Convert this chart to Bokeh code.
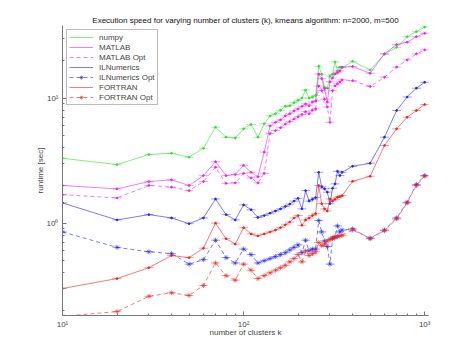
from bokeh.plotting import figure
from bokeh.models import Range1d, FixedTicker, Legend, LegendItem
from bokeh.embed import file_html
from bokeh.resources import INLINE

k = [10, 20, 30, 40, 50, 60, 70, 80, 90, 100, 110, 120, 130, 140, 150, 160, 170,
     180, 190, 200, 210, 220, 230, 240, 250, 260, 270, 280, 290, 300, 310, 320,
     330, 340, 350, 400, 500, 600, 700, 800, 900, 1000]

numpy_t = [3.30, 2.94, 3.54, 3.62, 3.37, 3.97, 5.85, 4.87, 4.80, 5.68, 6.15, 4.87,
           6.23, 7.2, 7.5, 8.0, 8.6, 8.7, 9.2, 9.6, 10.0, 11.6, 10.0, 10.2, 10.5,
           18.0, 15.5, 12.2, 12.0, 15.0, 15.5, 19.5, 16.5, 17.7, 17.5,
           19.7, 16.8, 22.5, 25.5, 31.0, 34.0, 37.0]
matlab_t = [2.0, 1.88, 2.15, 2.22, 2.0, 2.4, 3.1, 2.4, 2.45, 2.9, 2.55, 2.35,
            3.7, 6.0, 6.4, 6.7, 7.2, 7.5, 7.9, 8.2, 8.6, 9.0, 8.7, 9.3, 9.5,
            15.6, 14.3, 11.9, 9.3, 13.5, 14.5, 15.6, 16.0, 16.5, 17.7,
            17.9, 15.8, 22.6, 26.8, 28.0, 31.0, 33.0]
matlab_opt_t = [1.69, 1.59, 2.0, 1.94, 1.82, 2.15, 2.8, 2.08, 2.1, 2.5, 2.3, 2.1,
                2.5, 5.2, 5.5, 5.8, 6.2, 6.5, 6.8, 7.1, 7.4, 7.8, 7.5, 8.0, 8.2,
                12.5, 11.5, 9.8, 8.5, 6.4, 11.5, 12.5, 13.0, 13.5, 14.0,
                13.8, 12.4, 14.7, 17.7, 20.2, 22.6, 24.3]
il_t = [1.45, 1.06, 1.17, 1.10, 0.99, 1.10, 1.56, 1.17, 1.06, 1.40, 1.28, 1.11,
        1.15, 1.2, 1.25, 1.3, 1.36, 1.42, 1.5, 1.58, 1.30, 1.82, 1.5, 1.55, 1.6,
        2.55, 1.95, 1.88, 1.77, 1.43, 1.9, 2.06, 2.6, 2.4, 2.55,
        2.85, 3.01, 4.87, 7.96, 10.2, 12.0, 13.4]
il_opt_t = [0.85, 0.64, 0.59, 0.57, 0.47, 0.51, 0.73, 0.53, 0.48, 0.62, 0.56, 0.48,
            0.50, 0.52, 0.54, 0.56, 0.58, 0.61, 0.64, 0.67, 0.58, 0.73, 0.60, 0.62, 0.62,
            1.05, 0.85, 0.72, 0.65, 0.47, 0.75, 0.78, 0.95, 0.85, 0.88,
            0.90, 0.75, 0.88, 1.10, 1.47, 2.04, 2.40]
fortran_t = [0.30, 0.36, 0.44, 0.55, 0.53, 0.63, 1.0, 0.75, 0.68, 0.92, 0.82, 0.79,
             0.82, 0.85, 0.88, 0.92, 0.97, 1.02, 1.1, 1.15, 0.96, 1.06, 1.1, 1.15, 1.19,
             2.0, 1.43, 1.30, 1.25, 1.56, 1.5, 1.55, 1.61, 1.63, 1.66,
             2.16, 2.37, 4.18, 5.68, 7.03, 7.96, 8.89]
fortran_opt_t = [0.18, 0.196, 0.26, 0.277, 0.264, 0.317, 0.48, 0.38, 0.35, 0.47, 0.42, 0.36,
                 0.38, 0.40, 0.42, 0.44, 0.46, 0.49, 0.52, 0.56, 0.49, 0.60, 0.55, 0.57, 0.59,
                 0.70, 0.66, 0.68, 0.72, 0.74, 0.76, 0.77, 0.78, 0.79, 0.80,
                 0.88, 0.76, 0.87, 1.08, 1.45, 2.0, 2.38]

series_names = ["numpy", "MATLAB", "MATLAB Opt", "ILNumerics", "ILNumerics Opt",
                "FORTRAN", "FORTRAN Opt"]
series_vals = [numpy_t, matlab_t, matlab_opt_t, il_t, il_opt_t, fortran_t, fortran_opt_t]
colors = ["#33dd33", "#ee22ee", "#ee22ee", "#2222ee", "#2222ee", "#ee2222", "#ee2222"]
dashes = ["solid", "solid", "4 3", "solid", "4 3", "solid", "4 3"]
markers = ["dot", "dot", "dot", "dot", "asterisk", "dot", "asterisk"]

FONT = "Liberation Sans"

p = figure(width=472, height=353, x_axis_type="log", y_axis_type="log",
           x_range=Range1d(10, 1050), y_range=Range1d(0.1824, 38.1),
           output_backend="svg", toolbar_location=None,
           min_border_left=62, min_border_right=44, min_border_top=25,
           min_border_bottom=38,
           title="Execution speed for varying number of clusters (k), kmeans algorithm: n=2000, m=500")
p.title.align = "center"
p.title.text_font = FONT
p.title.text_font_size = "8px"
p.title.text_font_style = "normal"
p.title.text_color = "#111111"
p.title.standoff = 2
p.outline_line_color = None
p.xgrid.visible = False
p.ygrid.visible = False
p.background_fill_color = "white"
p.border_fill_color = "white"

items = []
for name, vals, c, d, m in zip(series_names, series_vals, colors, dashes, markers):
    ln = p.line(k, vals, line_color=c, line_width=0.8, line_dash=d, line_alpha=0.75)
    cap = p.scatter(k, vals, marker="dash", size=9, line_color=c, line_width=0.8,
                    line_alpha=0.55)
    if m == "asterisk":
        mk = p.scatter(k, vals, marker="asterisk", size=5, line_color=c,
                       line_width=0.7, line_alpha=0.8)
        rends = [ln, mk]
    else:
        mk = p.scatter(k, vals, marker="circle", size=1.8, line_color=c, fill_color=c)
        rends = [ln]
    items.append(LegendItem(label=name, renderers=rends))

legend = Legend(items=items, location="top_left", margin=4, padding=2, spacing=0,
                glyph_width=24, glyph_height=10, label_height=10, label_standoff=6,
                label_text_font=FONT, label_text_font_size="8px",
                border_line_color="#777777", border_line_width=0.8,
                background_fill_alpha=1.0)
p.add_layout(legend)

for ax in (p.xaxis[0], p.yaxis[0]):
    ax.axis_line_color = "#777777"
    ax.major_tick_line_color = "#777777"
    ax.minor_tick_line_color = "#777777"
    ax.major_tick_in = 4
    ax.major_tick_out = 0
    ax.minor_tick_in = 2
    ax.minor_tick_out = 0
    ax.major_label_text_font = FONT
    ax.major_label_text_font_size = "8px"
    ax.axis_label_text_font = FONT
    ax.axis_label_text_font_size = "8px"
    ax.axis_label_text_font_style = "normal"

p.xaxis.ticker = FixedTicker(ticks=[10, 100, 1000],
                             minor_ticks=[20, 30, 40, 50, 60, 70, 80, 90,
                                          200, 300, 400, 500, 600, 700, 800, 900])
p.xaxis.major_label_overrides = {10: "10¹", 100: "10²", 1000: "10³"}
p.yaxis.ticker = FixedTicker(ticks=[1, 10],
                             minor_ticks=[0.2, 0.3, 0.4, 0.5, 0.6, 0.7, 0.8, 0.9,
                                          2, 3, 4, 5, 6, 7, 8, 9, 20, 30])
p.yaxis.major_label_overrides = {1: "10⁰", 10: "10¹"}
p.xaxis.axis_label = "number of clusters k"
p.yaxis.axis_label = "runtime [sec]"
p.xaxis.major_label_standoff = 4
p.xaxis.axis_label_standoff = -4
p.yaxis.major_label_standoff = 4
p.yaxis.axis_label_standoff = -1

open("out.html", "w").write(file_html(p, INLINE))
